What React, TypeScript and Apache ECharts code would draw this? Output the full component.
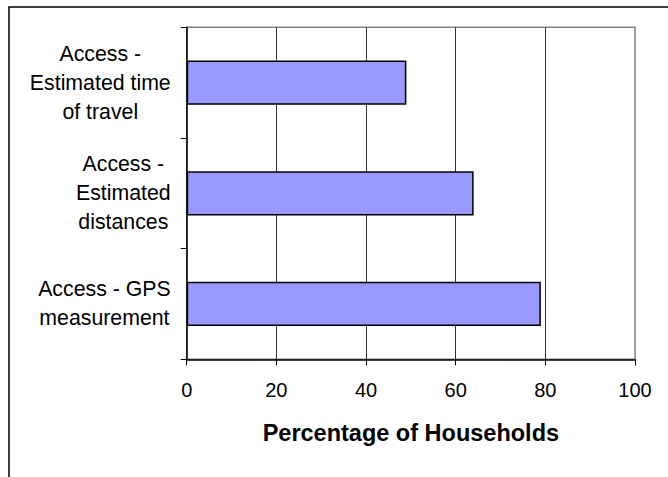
import React, { useEffect, useRef } from "react";
import * as echarts from "echarts";

const categories = [
  "Access -\nEstimated time\nof travel",
  "Access -\nEstimated\ndistances",
  "Access - GPS\nmeasurement",
];
const values = [49, 64, 79];
const axisTitle = "Percentage of Households";
const xMin = 0;
const xMax = 100;
const xStep = 20;

const FONT = "'Liberation Sans', Arial, sans-serif";

export default function App() {
  const ref = useRef<HTMLDivElement>(null);
  useEffect(() => {
    if (!ref.current) return;
    const chart = echarts.init(ref.current, undefined, { renderer: "svg" });
    chart.setOption({
      animation: false,
      backgroundColor: "#ffffff",
      textStyle: { fontFamily: FONT },
      grid: {
        left: 186.7,
        right: 33,
        top: 27.3,
        bottom: 117.7,
        show: true,
        borderColor: "#808080",
        borderWidth: 1.5,
        backgroundColor: "transparent",
      },
      graphic: [
        {
          type: "rect",
          shape: { x: 9, y: 7, width: 720, height: 520 },
          style: { fill: "none", stroke: "#000", lineWidth: 1.5 },
          z: 100,
        },
      ],
      xAxis: {
        type: "value",
        min: xMin,
        max: xMax,
        interval: xStep,
        name: axisTitle,
        nameLocation: "middle",
        nameGap: 62,
        nameTextStyle: {
          fontFamily: FONT,
          fontSize: 23.5,
          fontWeight: "bold",
          color: "#000",
        },
        axisLine: { show: true, lineStyle: { color: "#000", width: 1.5 } },
        axisTick: { show: true, length: 6, lineStyle: { color: "#000" } },
        axisLabel: {
          fontFamily: FONT,
          fontSize: 20,
          color: "#000",
          margin: 21,
        },
        splitLine: {
          show: true,
          showMinLine: false,
          showMaxLine: false,
          lineStyle: { color: "#333", width: 1 },
        },
      },
      yAxis: {
        type: "category",
        inverse: true,
        data: categories,
        axisLine: { show: true, lineStyle: { color: "#000", width: 1.5 } },
        axisTick: { show: true, length: 6, lineStyle: { color: "#000" } },
        axisLabel: {
          margin: 16,
          align: "right",
          formatter: (v: string) =>
            v
              .split("\n")
              .map((l) => `{c|${l}}`)
              .join("\n"),
          rich: {
            c: {
              align: "center",
              fontFamily: FONT,
              fontSize: 21.3,
              lineHeight: 29,
              color: "#000",
            },
          },
        },
        splitLine: { show: false },
      },
      series: [
        {
          type: "bar",
          data: values,
          barWidth: "40%",
          itemStyle: {
            color: "#9999FF",
            borderColor: "#000",
            borderWidth: 1.5,
          },
        },
      ],
    });
    return () => chart.dispose();
  }, []);
  return (
    <div
      ref={ref}
      style={{ position: "fixed", left: 0, top: 0, width: 668, height: 477 }}
    />
  );
}
